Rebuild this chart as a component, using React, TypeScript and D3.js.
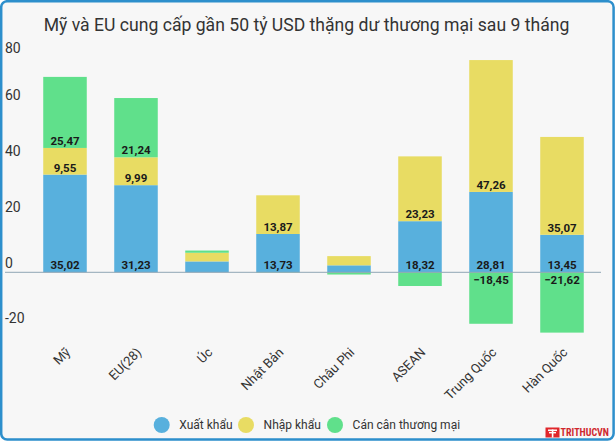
import React from "react";
import * as d3 from "d3";

const categories = ["Mỹ", "EU(28)", "Úc", "Nhật Bản", "Châu Phi", "ASEAN", "Trung Quốc", "Hàn Quốc"];
const exportsVals = [35.02, 31.23, 3.9, 13.73, 2.5, 18.32, 28.81, 13.45];
const importsVals = [9.55, 9.99, 3.1, 13.87, 3.3, 23.23, 47.26, 35.07];
const balanceVals = [25.47, 21.24, 0.8, -0.14, -0.8, -4.91, -18.45, -21.62];
const seriesNames = ["Xuất khẩu", "Nhập khẩu", "Cán cân thương mại"];
const seriesColors = ["#58b0dd", "#e8dc63", "#60e08b"];
const yTicks = [-20, 0, 20, 40, 60, 80];
const title = "Mỹ và EU cung cấp gần 50 tỷ USD thặng dư thương mại sau 9 tháng";

const W = 615;
const H = 441;
const FONT = "Roboto, 'Noto Sans', sans-serif";

export default function App() {
  const rows = categories.map((c, i) => ({
    cat: c,
    s0: exportsVals[i],
    s1: importsVals[i],
    s2: balanceVals[i],
  }));
  const keys = ["s0", "s1", "s2"];
  const stacked = d3.stack<any>().keys(keys).offset(d3.stackOffsetDiverging)(rows);

  const x = d3.scaleBand<string>().domain(categories).range([29.5, 597.5]).paddingInner(0.387).paddingOuter(0.1935);
  const pxPerUnit = 2.79;
  const y = d3.scaleLinear().domain([0, 80]).range([272.3, 272.3 - 80 * pxPerUnit]);

  const fmt = (v: number) => d3.format(".2f")(v).replace(".", ",");

  const legendX = [161.7, 246, 335];

  return (
    <svg width={W} height={H} style={{ position: "absolute", left: 0, top: 0 }} fontFamily={FONT}>
      <rect x={0} y={0} width={W} height={H} fill="#ffffff" />
      <rect x={1.2} y={1.2} width={612.4} height={438.4} rx={6} fill="#f7f7f7" stroke="#2d8fcc" strokeWidth={2.5} />
      <text x={306.5} y={31} textAnchor="middle" fontSize={17.6} fill="#333">{title}</text>

      {yTicks.map((t) => (
        <text key={t} x={5} y={Math.max(y(t) - 9.7, 48.5)} dy="0.35em" fontSize={14} fill="#333">{t}</text>
      ))}

      {stacked.map((layer, si) => (
        <g key={layer.key}>
          {layer.map((d, i) => {
            const y0 = y(d[0]);
            const y1 = y(d[1]);
            const top = Math.min(y0, y1);
            const h = Math.abs(y0 - y1);
            return (
              <rect key={i} x={x(categories[i])!} width={x.bandwidth()} y={top} height={h} fill={seriesColors[si]} />
            );
          })}
        </g>
      ))}

      <line x1={5} x2={601} y1={y(0)} y2={y(0)} stroke="#8fa6b5" strokeWidth={1} />

      {stacked.map((layer, si) => (
        <g key={"l" + layer.key}>
          {layer.map((d, i) => {
            const v = (rows[i] as any)[layer.key] as number;
            const y0 = y(d[0]);
            const y1 = y(d[1]);
            const h = Math.abs(y0 - y1);
            if (h < 15) return null;
            const cx = x(categories[i])! + x.bandwidth() / 2;
            const ly = v >= 0 ? y(d[0]) - 7 : y(d[1]) + 8;
            return (
              <text key={i} x={cx} y={ly} dy="0.35em" textAnchor="middle" fontSize={11.5} fontWeight="bold" fill="#1a1a1a">{fmt(v)}</text>
            );
          })}
        </g>
      ))}

      {categories.map((c) => {
        const cx = x(c)! + x.bandwidth() / 2;
        return (
          <text key={c} transform={`translate(${cx + 3},${350}) rotate(-45)`} textAnchor="end" dy="0.35em" fontSize={13} fill="#333">{c}</text>
        );
      })}

      {seriesNames.map((n, i) => (
        <g key={n}>
          <circle cx={legendX[i]} cy={425} r={8} fill={seriesColors[i]} />
          <text x={legendX[i] + 17.6} y={425} dy="0.35em" fontSize={12} fill="#333">{n}</text>
        </g>
      ))}

      <g>
        <rect x={545.5} y={427.5} width={14} height={10} fill="#e0262b" />
        <rect x={548} y={429.5} width={9} height={1.6} fill="#fff" />
        <rect x={549} y={432} width={7} height={1.4} fill="#fff" />
        <rect x={551.8} y={429.5} width={1.6} height={8} fill="#fff" />
        <text x={609} y={436} textAnchor="end" fontSize={10} fontWeight="bold" fill="#d0282e" fontFamily="'Liberation Sans Narrow', 'Roboto Condensed', 'Roboto', sans-serif">TRITHUCVN</text>
      </g>
    </svg>
  );
}
